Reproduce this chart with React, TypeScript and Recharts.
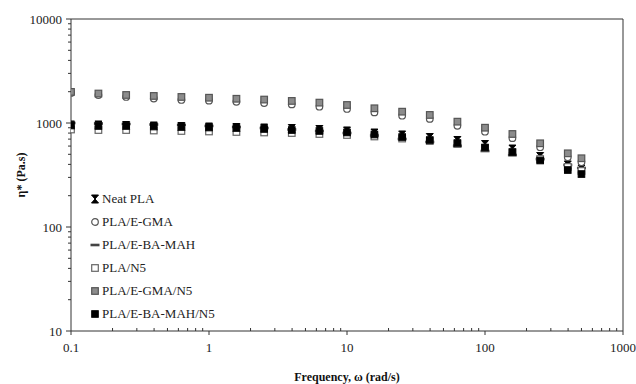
import React from "react";
import {
  ScatterChart,
  Scatter,
  XAxis,
  YAxis,
  ReferenceLine,
  Legend,
} from "recharts";

// angular frequency, rad/s
const frequency = [
  0.1, 0.158, 0.251, 0.398, 0.631, 1, 1.58, 2.51, 3.98, 6.31, 10, 15.8, 25.1,
  39.8, 63.1, 100, 158, 251, 398, 500,
];

// complex viscosity, Pa.s
const neatPla = [
  957, 957, 946, 936, 925, 915, 905, 895, 885, 866, 838, 801, 767, 725, 679,
  621, 562, 476, 395, 361,
];
const plaEgma = [
  1945, 1855, 1780, 1720, 1665, 1640, 1600, 1555, 1510, 1435, 1365, 1265, 1175,
  1095, 940, 825, 715, 585, 468, 420,
];
const plaEbaMah = [
  1000, 989, 978, 967, 957, 936, 915, 895, 866, 838, 801, 758, 702, 657, 601,
  538, 492, 450, 395, 369,
];
const plaN5 = [
  866, 856, 856, 847, 838, 829, 820, 811, 801, 784, 767, 742, 709, 671, 628,
  575, 520, 450, 378, 346,
];
const plaEgmaN5 = [
  1990, 1920, 1860, 1820, 1780, 1750, 1710, 1680, 1630, 1570, 1490, 1385, 1285,
  1195, 1030, 901, 784, 638, 511, 458,
];
const plaEbaMahN5 = [
  946, 936, 936, 925, 915, 905, 895, 876, 856, 838, 811, 775, 733, 686, 642,
  581, 526, 436, 353, 323,
];

const xMajorTicks = [0.1, 1, 10, 100, 1000];
const yMajorTicks = [10, 100, 1000, 10000];
const minorSteps = [2, 3, 4, 5, 6, 7, 8, 9];

const withMinor = (majors: number[]) => {
  const out: number[] = [];
  majors.forEach((m, i) => {
    out.push(m);
    if (i < majors.length - 1) minorSteps.forEach((s) => out.push(+(m * s).toPrecision(3)));
  });
  return out;
};

const isMajor = (v: number) => Math.abs(Math.log10(v) - Math.round(Math.log10(v))) < 1e-6;

const toPoints = (ys: number[]) => frequency.map((x, i) => ({ x, y: ys[i] }));

const AXIS = "#333";

// marker shapes
const Hourglass = ({ cx, cy }: any) => (
  <path
    d={`M${cx - 3.5},${cy - 4} L${cx + 3.5},${cy - 4} L${cx - 3.5},${cy + 4} L${cx + 3.5},${cy + 4} Z`}
    fill="#000"
    stroke="#000"
    strokeWidth={1}
  />
);
const OpenCircle = ({ cx, cy }: any) => (
  <circle cx={cx} cy={cy} r={3.3} fill="#fff" stroke="#555" strokeWidth={1.2} />
);
const Dash = ({ cx, cy }: any) => (
  <rect x={cx - 4.5} y={cy - 1.3} width={9} height={2.6} fill="#444" />
);
const OpenSquare = ({ cx, cy }: any) => (
  <rect x={cx - 3.3} y={cy - 3.3} width={6.6} height={6.6} fill="#fff" stroke="#666" strokeWidth={1.2} />
);
const GraySquare = ({ cx, cy }: any) => (
  <rect x={cx - 3.3} y={cy - 3.3} width={6.6} height={6.6} fill="#8c8c8c" stroke="#555" strokeWidth={1.2} />
);
const BlackSquare = ({ cx, cy }: any) => (
  <rect x={cx - 3.3} y={cy - 3.3} width={6.6} height={6.6} fill="#000" stroke="#000" strokeWidth={1} />
);

const series = [
  { name: "Neat PLA", values: neatPla, Shape: Hourglass },
  { name: "PLA/E-GMA", values: plaEgma, Shape: OpenCircle },
  { name: "PLA/E-BA-MAH", values: plaEbaMah, Shape: Dash },
  { name: "PLA/N5", values: plaN5, Shape: OpenSquare },
  { name: "PLA/E-GMA/N5", values: plaEgmaN5, Shape: GraySquare },
  { name: "PLA/E-BA-MAH/N5", values: plaEbaMahN5, Shape: BlackSquare },
];

const XTick = ({ x, y, payload }: any) => {
  const major = isMajor(payload.value);
  return (
    <g>
      {major ? (
        <line x1={x} x2={x} y1={y} y2={y + 4} stroke={AXIS} />
      ) : (
        <line x1={x} x2={x} y1={y - 3} y2={y} stroke={AXIS} />
      )}
      {major && (
        <text x={x} y={y + 16} dy="0.35em" textAnchor="middle" fontSize={13} fill="#222">
          {payload.value}
        </text>
      )}
    </g>
  );
};

const YTick = ({ x, y, payload }: any) => {
  const major = isMajor(payload.value);
  return (
    <g>
      <line x1={x - (major ? 5 : 3)} x2={x} y1={y} y2={y} stroke={AXIS} />
      {major && (
        <text x={x - 9} y={y} dy="0.35em" textAnchor="end" fontSize={13} fill="#222">
          {payload.value}
        </text>
      )}
    </g>
  );
};

const LegendBox = () => (
  <div style={{ fontFamily: "Liberation Serif", fontSize: 13, color: "#222", whiteSpace: "nowrap" }}>
    {series.map(({ name, Shape }) => (
      <div key={name} style={{ display: "flex", alignItems: "center", height: 23 }}>
        <svg width={10} height={10} style={{ overflow: "visible" }}>
          <Shape cx={5} cy={5} />
        </svg>
        <span style={{ marginLeft: 2 }}>{name}</span>
      </div>
    ))}
  </div>
);

export default function App() {
  return (
    <div style={{ position: "absolute", left: 0, top: 0, background: "#fff" }}>
      <ScatterChart
        width={636}
        height={384}
        margin={{ top: 19, right: 13, bottom: 0, left: 0 }}
        style={{ fontFamily: "Liberation Serif" }}
      >
        <XAxis
          type="number"
          dataKey="x"
          scale="log"
          domain={[0.1, 1000]}
          ticks={withMinor(xMajorTicks)}
          interval={0}
          tickSize={0}
          tickMargin={0}
          tick={<XTick />}
          height={53}
          stroke={AXIS}
          allowDataOverflow
          label={{
            value: "Frequency, ω (rad/s)",
            position: "insideBottom",
            offset: 3,
            style: { fontWeight: "bold", fontSize: 12, fill: "#111" },
          }}
        />
        <YAxis
          type="number"
          dataKey="y"
          scale="log"
          domain={[10, 10000]}
          ticks={withMinor(yMajorTicks)}
          interval={0}
          tickSize={0}
          tickMargin={0}
          tick={<YTick />}
          width={71}
          stroke={AXIS}
          allowDataOverflow
          label={{
            value: "η* (Pa.s)",
            angle: -90,
            position: "insideLeft",
            offset: 21,
            style: { fontWeight: "bold", fontSize: 12, fill: "#111", textAnchor: "middle" },
          }}
        />
        <ReferenceLine y={10000} stroke={AXIS} />
        <ReferenceLine x={1000} stroke={AXIS} />
        <Legend
          content={<LegendBox />}
          layout="vertical"
          verticalAlign="middle"
          align="center"
          wrapperStyle={{ left: 90, top: 187, width: "auto" }}
        />
        {series.map(({ name, values, Shape }) => (
          <Scatter
            key={name}
            name={name}
            data={toPoints(values)}
            shape={(p: any) => <Shape cx={p.cx} cy={p.cy} />}
            isAnimationActive={false}
          />
        ))}
      </ScatterChart>
    </div>
  );
}
